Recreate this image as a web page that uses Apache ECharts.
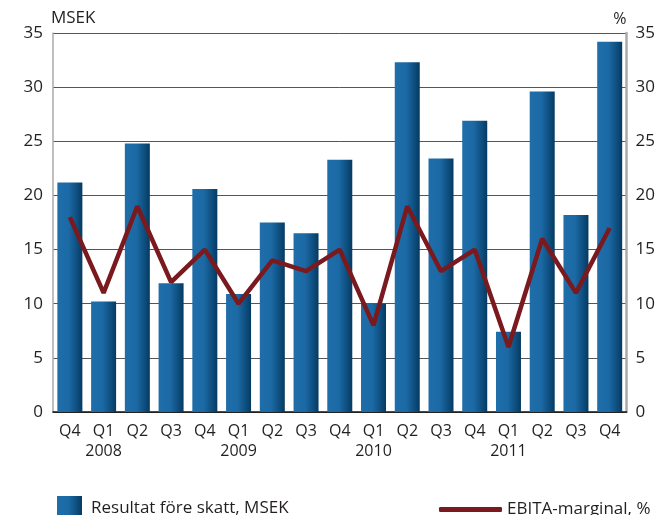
<!DOCTYPE html>
<html>
<head>
<meta charset="utf-8">
<script src="https://cdn.jsdelivr.net/npm/echarts@6/dist/echarts.min.js"></script>
<style>
  html, body { margin: 0; padding: 0; background: #fff; }
  #chart { width: 658px; height: 515px; }
</style>
</head>
<body>
<div id="chart"></div>
<script>
// kvartal + år
var quarters = ['Q4', 'Q1', 'Q2', 'Q3', 'Q4', 'Q1', 'Q2', 'Q3', 'Q4', 'Q1', 'Q2', 'Q3', 'Q4', 'Q1', 'Q2', 'Q3', 'Q4'];
var years = ['', '2008', '', '', '', '2009', '', '', '', '2010', '', '', '', '2011', '', '', ''];
var resultat = [21.2, 10.2, 24.8, 11.9, 20.6, 10.9, 17.5, 16.5, 23.3, 10.0, 32.3, 23.4, 26.9, 7.4, 29.6, 18.2, 34.2];
var ebita = [18, 11, 19, 12, 15, 10, 14, 13, 15, 8, 19, 13, 15, 6, 16, 11, 17];

var categories = quarters.map(function (q, i) {
    return years[i] ? q + '\n' + years[i] : q;
});

var myChart = echarts.init(document.getElementById('chart'));
var font = 'Open Sans';
var txt = '#231f20';

var barColor = new echarts.graphic.LinearGradient(0, 0, 1, 0, [
    { offset: 0, color: '#1f6ea9' },
    { offset: 0.45, color: '#1c6aa5' },
    { offset: 0.8, color: '#0d4d7d' },
    { offset: 1, color: '#063a60' }
]);

var option = {
    animation: false,
    textStyle: { fontFamily: font },
    grid: { left: 53, right: 30, top: 33, bottom: 103 },
    legend: [
        {
            data: ['Resultat före skatt, MSEK'],
            left: 52, top: 491,
            itemWidth: 25, itemHeight: 25, itemGap: 10,
            icon: 'rect',
            textStyle: { fontFamily: font, fontSize: 17, color: txt, padding: [4, 0, 0, 4] }
        },
        {
            data: ['EBITA-marginal, %'],
            left: 434, top: 496,
            itemWidth: 63, itemHeight: 5,
            icon: 'roundRect',
            textStyle: { fontFamily: font, fontSize: 17, color: txt, padding: [0, 0, 0, 0] }
        }
    ],
    xAxis: {
        type: 'category',
        data: categories,
        axisLine: { lineStyle: { color: '#111', width: 1.5 } },
        axisTick: { inside: true, length: 7, lineStyle: { color: '#333', width: 1.5 } },
        axisLabel: { color: txt, fontSize: 16, lineHeight: 20, margin: 9, interval: 0 }
    },
    yAxis: [
        {
            type: 'value', min: 0, max: 35, interval: 5,
            name: 'MSEK', nameGap: 6,
            nameTextStyle: { color: txt, fontSize: 17, align: 'left', padding: [0, 0, 0, -2] },
            axisLine: { show: true, lineStyle: { color: '#aaa', width: 1.5 } },
            axisTick: { show: false },
            axisLabel: { color: txt, fontSize: 17, margin: 10 },
            splitLine: { lineStyle: { color: '#555', width: 1 } }
        },
        {
            type: 'value', min: 0, max: 35, interval: 5,
            name: '%', nameGap: 6,
            nameTextStyle: { color: txt, fontSize: 16, align: 'right' },
            axisLine: { show: true, lineStyle: { color: '#aaa', width: 2.5 } },
            axisTick: { show: false },
            axisLabel: { color: txt, fontSize: 17, margin: 9 },
            splitLine: { show: false }
        }
    ],
    series: [
        {
            name: 'Resultat före skatt, MSEK',
            type: 'bar',
            data: resultat,
            barWidth: 25,
            itemStyle: { color: barColor }
        },
        {
            name: 'EBITA-marginal, %',
            type: 'line',
            yAxisIndex: 1,
            data: ebita,
            symbol: 'none',
            lineStyle: { color: '#7a1a1e', width: 4.5 },
            itemStyle: { color: '#7a1a1e' }
        }
    ]
};

myChart.setOption(option);
</script>
</body>
</html>
